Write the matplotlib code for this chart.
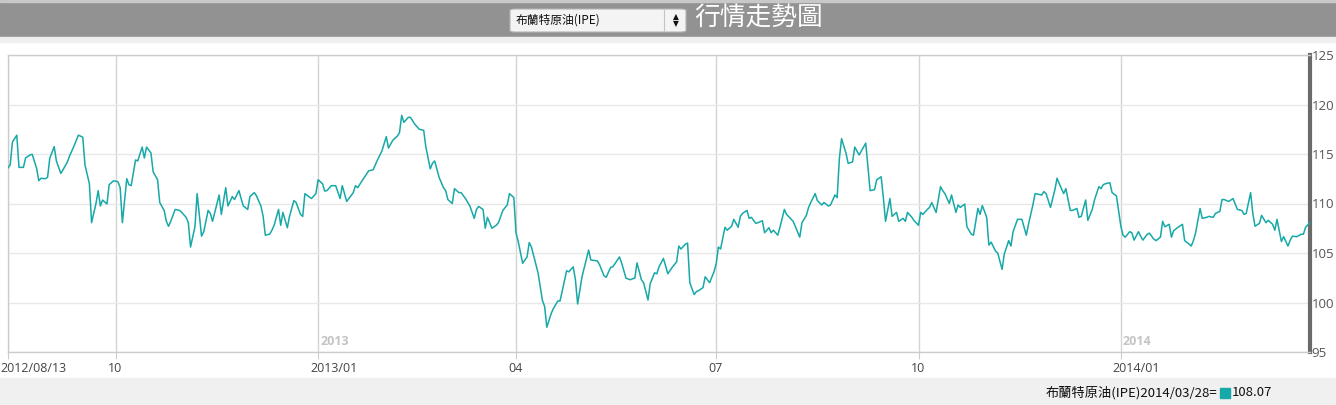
import numpy as np
import pandas as pd
import matplotlib
matplotlib.use("Agg")
import matplotlib.pyplot as plt
from matplotlib.patches import Rectangle, FancyBboxPatch
from matplotlib.transforms import ScaledTranslation, blended_transform_factory

plt.rcParams['font.family'] = ['Open Sans', 'Noto Sans CJK TC', 'DejaVu Sans']

# data: days after the start date, price
start_date = '2012-08-13'
day_offsets = [
    0, 1, 2, 4, 5, 7, 8, 10, 11, 13, 14, 15, 17, 18, 19, 21, 22, 24, 25, 27,
    28, 30, 32, 34, 35, 37, 38, 40, 41, 42, 43, 45, 46, 48, 50, 51, 52, 54, 55, 56,
    58, 59, 61, 62, 63, 65, 66, 68, 69, 71, 72, 73, 74, 76, 78, 79, 81, 82, 83, 85,
    86, 88, 89, 91, 92, 93, 96, 97, 99, 100, 102, 103, 105, 106, 107, 109, 110, 112, 113, 115,
    116, 117, 119, 120, 121, 123, 124, 125, 127, 128, 130, 131, 133, 134, 135, 138, 140, 141, 143, 144,
    145, 147, 149, 151, 152, 154, 155, 157, 158, 159, 161, 164, 166, 168, 170, 172, 173, 175, 177, 178,
    179, 180, 182, 183, 185, 187, 189, 190, 192, 193, 194, 196, 198, 199, 200, 202, 203, 205, 206, 208,
    210, 212, 213, 214, 216, 217, 218, 220, 222, 223, 225, 227, 228, 230, 231, 232, 234, 236, 237, 238,
    241, 243, 244, 245, 247, 248, 250, 251, 254, 255, 257, 258, 259, 261, 264, 265, 268, 269, 271, 272,
    274, 275, 278, 279, 281, 283, 284, 285, 286, 288, 289, 291, 292, 294, 295, 296, 298, 299, 300, 302,
    304, 305, 306, 308, 309, 310, 312, 313, 314, 316, 317, 319, 321, 322, 323, 324, 326, 327, 329, 330,
    332, 333, 334, 336, 337, 338, 340, 341, 343, 344, 346, 347, 348, 350, 351, 353, 354, 357, 360, 361,
    363, 364, 365, 367, 368, 370, 371, 373, 374, 376, 377, 378, 379, 381, 382, 384, 385, 387, 388, 390,
    391, 392, 394, 395, 397, 398, 399, 401, 402, 404, 405, 407, 408, 409, 411, 412, 414, 415, 416, 418,
    419, 420, 422, 424, 425, 426, 428, 429, 431, 432, 433, 435, 436, 438, 439, 441, 442, 443, 445, 446,
    447, 449, 450, 452, 453, 455, 456, 457, 459, 461, 463, 464, 466, 467, 469, 470, 471, 472, 474, 476,
    477, 478, 480, 481, 483, 484, 486, 487, 488, 490, 491, 493, 494, 496, 497, 498, 499, 501, 502, 504,
    506, 507, 508, 510, 511, 512, 514, 515, 516, 518, 519, 521, 522, 524, 525, 526, 528, 529, 530, 532,
    534, 535, 537, 538, 539, 540, 542, 543, 545, 546, 548, 549, 551, 552, 553, 555, 557, 559, 561, 562,
    563, 565, 566, 567, 569, 570, 572, 573, 575, 576, 577, 579, 580, 582, 583, 584, 586, 588, 589, 590,
    592,
]
prices = [
    113.6, 113.9, 116.2, 116.9, 113.65, 113.65, 114.6, 114.9, 114.97, 113.56,
    112.3, 112.55, 112.5, 112.65, 114.57, 115.74, 114.3, 113.05, 113.4, 114.2,
    114.8, 115.8, 116.9, 116.7, 113.9, 112.0, 108.06, 110.0, 111.3, 109.75,
    110.35, 109.95, 111.9, 112.3, 112.2, 111.6, 108.06, 112.5, 111.9, 111.8,
    114.4, 114.3, 115.7, 114.6, 115.7, 115.1, 113.2, 112.4, 110.1, 109.3,
    108.2, 107.7, 108.2, 109.4, 109.3, 109.1, 108.6, 108.06, 105.6, 107.65,
    111.0, 106.7, 107.15, 109.3, 109.0, 108.2, 110.86, 108.9, 111.6, 109.75,
    110.7, 110.4, 111.3, 110.5, 109.75, 109.4, 110.7, 111.1, 110.76, 109.75,
    108.7, 106.8, 106.9, 107.3, 107.8, 109.4, 107.8, 109.1, 107.55, 108.7,
    110.3, 110.1, 108.9, 108.7, 111.0, 110.5, 111.0, 112.4, 112.0, 111.26,
    111.3, 111.8, 111.8, 110.5, 111.8, 110.2, 110.5, 111.1, 111.8, 111.6,
    112.3, 113.3, 113.4, 114.4, 115.3, 116.75, 115.6, 116.4, 116.8, 117.15,
    118.9, 118.2, 118.7, 118.7, 118.0, 117.5, 117.4, 115.7, 113.5, 114.06,
    114.3, 112.65, 111.6, 111.3, 110.4, 110.0, 111.5, 111.1, 111.1, 110.5,
    109.75, 108.5, 109.4, 109.7, 109.4, 107.5, 108.6, 107.5, 107.8, 108.06,
    109.3, 109.85, 111.0, 110.6, 107.0, 106.15, 103.96, 104.6, 106.05, 105.6,
    103.0, 100.2, 99.6, 97.5, 98.9, 99.4, 100.15, 100.15, 103.2, 103.1,
    103.6, 102.3, 99.85, 102.6, 105.3, 104.3, 104.2, 103.8, 102.7, 102.55,
    103.55, 103.6, 104.6, 104.0, 102.45, 102.3, 102.4, 102.45, 104.0, 102.3,
    102.0, 100.25, 101.9, 103.0, 102.9, 103.6, 104.45, 103.7, 102.9, 103.55,
    104.1, 105.7, 105.4, 105.9, 106.0, 102.0, 100.8, 101.1, 101.2, 101.5,
    102.6, 102.0, 103.1, 103.9, 105.6, 105.4, 107.6, 107.3, 107.7, 108.4,
    107.6, 108.7, 109.0, 109.3, 108.5, 108.6, 108.0, 108.06, 108.26, 107.05,
    107.55, 107.05, 107.3, 106.8, 107.6, 109.4, 108.9, 108.2, 106.6, 108.06,
    108.8, 109.6, 110.1, 111.0, 110.3, 109.85, 110.1, 109.75, 109.85, 110.86,
    110.6, 114.5, 116.55, 115.1, 114.06, 114.2, 115.7, 114.9, 115.3, 116.1,
    113.7, 111.3, 111.4, 112.4, 112.7, 110.6, 108.2, 110.5, 108.7, 109.1,
    108.2, 108.5, 108.2, 109.1, 108.6, 108.26, 107.8, 109.1, 108.9, 109.4,
    109.6, 110.1, 109.1, 111.7, 111.3, 111.0, 110.0, 110.86, 109.1, 109.85,
    109.6, 109.95, 107.65, 106.9, 106.8, 109.5, 108.9, 109.8, 108.6, 105.8,
    106.1, 105.2, 105.0, 103.35, 104.9, 106.25, 105.7, 107.15, 108.4, 108.4,
    106.8, 107.9, 109.85, 111.0, 110.9, 110.86, 111.2, 111.0, 109.6, 111.4,
    112.55, 112.0, 111.0, 111.5, 109.3, 109.3, 109.5, 108.6, 108.7, 110.35,
    108.3, 109.4, 110.35, 111.7, 111.5, 111.9, 112.0, 112.1, 111.1, 110.76,
    107.7, 106.8, 106.6, 107.15, 107.05, 106.3, 107.15, 106.7, 106.3, 106.9,
    107.0, 106.4, 106.25, 106.6, 108.2, 107.65, 107.9, 106.6, 107.25, 107.6,
    107.9, 106.25, 105.9, 105.7, 106.25, 107.05, 109.5, 108.5, 108.6, 108.7,
    108.6, 109.0, 109.2, 110.4, 110.4, 110.2, 110.5, 109.4, 109.3, 108.9,
    109.0, 111.1, 109.0, 107.7, 108.0, 108.8, 108.06, 108.3, 107.9, 107.3,
    108.4, 106.15, 106.65, 105.7, 106.3, 106.7, 106.65, 106.9, 106.9, 107.6,
    108.07,
]

month_ticks = ['2012-08-13', '2012-10-01', '2013-01-01', '2013-04-01',
               '2013-07-01', '2013-10-01', '2014-01-01']
month_labels = ['2012/08/13', '10', '2013/01', '04', '07', '10', '2014/01']
year_marks = ['2013-01-01', '2014-01-01']
year_labels = ['2013', '2014']
y_ticks = [95, 100, 105, 110, 115, 120, 125]

series_name = '布蘭特原油(IPE)'
last_date = '2014/03/28'
last_value = '108.07'

dates = pd.Timestamp(start_date) + pd.to_timedelta(day_offsets, unit='D')

W, H = 1336, 405
fig = plt.figure(figsize=(W / 100, H / 100), dpi=100)

def px(x, y):
    # pixel (from top-left) to figure fraction
    return x / W, 1 - y / H

cjk = ['Noto Sans CJK TC', 'DejaVu Sans']

# header band
fig.patches.append(Rectangle(px(0, 37), 1, 37 / H, transform=fig.transFigure,
                             color='#929292', zorder=0))
fig.patches.append(Rectangle(px(0, 2), 1, 2 / H, transform=fig.transFigure,
                             color='#c8c8c8', zorder=1))
fig.patches.append(Rectangle(px(0, 42), 1, 5 / H, transform=fig.transFigure,
                             color='#eef0ef', zorder=0))
# dropdown box
fig.patches.append(FancyBboxPatch(px(510, 32), 176 / W, 23 / H,
                                  boxstyle='round,pad=0,rounding_size=0.004',
                                  transform=fig.transFigure, facecolor='#f4f4f4',
                                  edgecolor='#b4b4b4', linewidth=0.8, zorder=2))
fig.add_artist(plt.Line2D([664 / W, 664 / W], [1 - 31 / H, 1 - 10 / H],
                          transform=fig.transFigure, color='#c4c4c4', lw=0.8, zorder=3))
fig.text(*px(516, 20), series_name, fontsize=8.5, color='#111111', va='center',
         ha='left', family=cjk, zorder=4)
fig.text(*px(675.5, 16.5), '▲', fontsize=5.5, color='#111111', va='center', ha='center',
         family='DejaVu Sans', zorder=4)
fig.text(*px(675.5, 24), '▼', fontsize=5.5, color='#111111', va='center', ha='center',
         family='DejaVu Sans', zorder=4)
fig.text(*px(694, 19), '行情走勢圖', fontsize=18.5, color='white', va='center', ha='left',
         family=cjk, zorder=4)

# footer band
fig.patches.append(Rectangle((0, 0), 1, 27 / H, transform=fig.transFigure,
                             color='#eff0ef', zorder=0))
fig.text(*px(1217, 393), f'{series_name}{last_date}=', fontsize=9.5, color='#111111',
         va='center', ha='right', family=cjk)
fig.patches.append(Rectangle(px(1220, 398), 10 / W, 10 / H, transform=fig.transFigure,
                             color='#17a8a8'))
fig.text(*px(1232, 393), last_value, fontsize=9.5, color='#111111', va='center', ha='left',
         family=cjk)

# plot area
ax = fig.add_axes([8 / W, 53 / H, 1302 / W, 297 / H])
ax.plot(dates, prices, color='#17a8a8', lw=1.1, zorder=3)

ax.set_xlim(pd.Timestamp(start_date), pd.Timestamp(start_date) + pd.Timedelta(days=592))
ax.set_ylim(95, 125)

ax.yaxis.tick_right()
ax.set_yticks(y_ticks)
ax.set_yticklabels([str(v) for v in y_ticks], fontsize=9.5, color='#555555')
ax.tick_params(axis='y', length=0, pad=1)
ax.grid(axis='y', color='#e8e8e8', lw=1, zorder=0)

tick_dates = pd.to_datetime(month_ticks)
ax.set_xticks(tick_dates)
ax.set_xticklabels(month_labels, fontsize=9, color='#444444', ha='left')
ax.tick_params(axis='x', length=5, color='#cccccc', pad=2)
shift = ScaledTranslation(-8 / 100, 0, fig.dpi_scale_trans)
for lab in ax.get_xticklabels():
    lab.set_transform(lab.get_transform() + shift)
ax.grid(axis='x', color='#d4d4d4', lw=1, zorder=0)

trans = blended_transform_factory(ax.transData, ax.transAxes)
for d, t in zip(pd.to_datetime(year_marks), year_labels):
    ax.text(d, 0.012, t, transform=trans + ScaledTranslation(2 / 100, 0, fig.dpi_scale_trans),
            fontsize=9, color='#c4c4c4', fontweight='bold', ha='left', va='bottom')

for side in ['top', 'left', 'bottom']:
    ax.spines[side].set_color('#cccccc')
    ax.spines[side].set_linewidth(1)
ax.spines['right'].set_color('#6a6a6a')
ax.spines['right'].set_linewidth(3)

fig.savefig('out.png', dpi=100)
